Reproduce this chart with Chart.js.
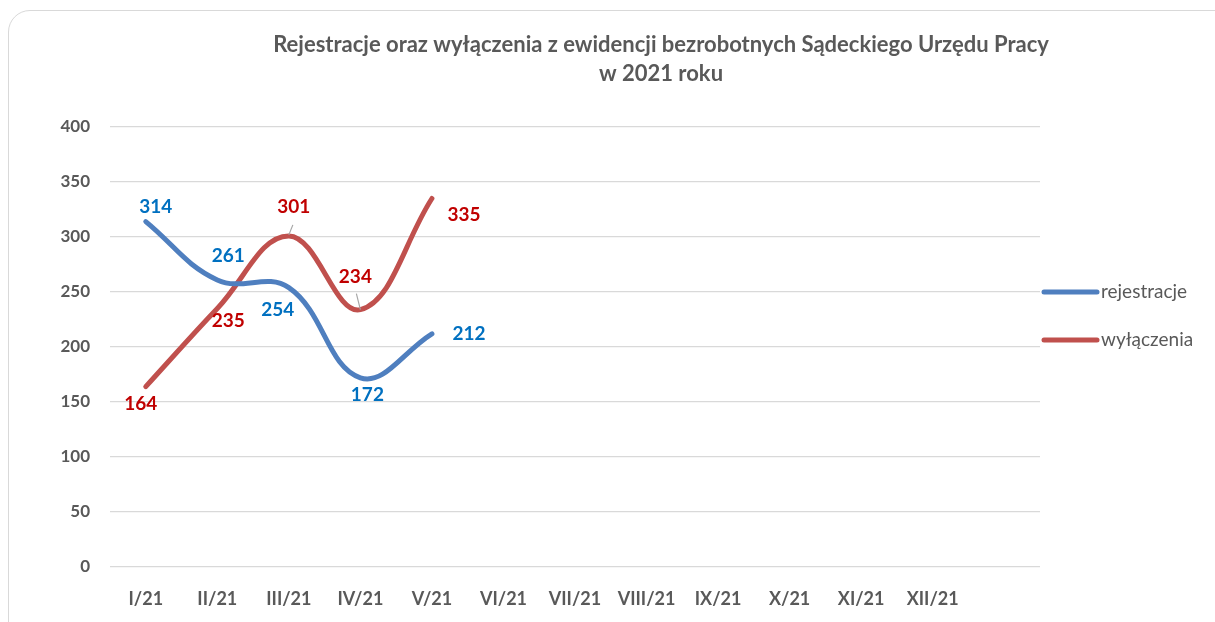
<!DOCTYPE html>
<html>
<head>
<meta charset="utf-8">
<script src="https://cdn.jsdelivr.net/npm/chart.js@4"></script>
<style>
  html, body { margin:0; padding:0; background:#fff; }
  #wrap { position:relative; width:1215px; height:622px; overflow:hidden; }
  #frame { position:absolute; left:8px; top:10px; width:1230px; height:640px;
           border:1px solid #d9d9d9; border-radius:22px; box-sizing:border-box; }
  #c { position:absolute; left:0; top:0; }
</style>
</head>
<body>
<div id="wrap">
  <div id="frame"></div>
  <canvas id="c" width="1215" height="622"></canvas>
</div>
<script>
// dane
const months = ['I/21','II/21','III/21','IV/21','V/21','VI/21','VII/21','VIII/21','IX/21','X/21','XI/21','XII/21',''];
const rejestracje = [314, 261, 254, 172, 212];
const wylaczenia = [164, 235, 301, 234, 335];
const titleLines = ['Rejestracje oraz wyłączenia z ewidencji bezrobotnych Sądeckiego Urzędu Pracy', 'w 2021 roku'];

const FONT = 'Lato, "Open Sans", sans-serif';
const GREY = '#595959';

// przesunięcia etykiet wartości (px) względem punktu
const labelOffsets = [
  [[10,-15],[11,-24],[-11,22],[7,17],[37,0]],
  [[-5,17],[11,12],[5,-29],[-5,-33],[32,16]]
];
const leaders = { '1-2': [[0,-1],[4,-11]], '1-3': [[0,0],[-4,-16]] };

const extras = {
  id: 'extras',
  afterDraw(chart){
    const ctx = chart.ctx;
    ctx.save();
    // tytuł
    ctx.fillStyle = GREY;
    ctx.font = 'bold 22px ' + FONT;
    ctx.textAlign = 'center';
    ctx.textBaseline = 'middle';
    ctx.fillText(titleLines[0], 661, 45);
    ctx.fillText(titleLines[1], 661, 74);

    // etykiety wartości
    chart.data.datasets.forEach((ds, di) => {
      const meta = chart.getDatasetMeta(di);
      meta.data.forEach((pt, i) => {
        const key = di + '-' + i;
        if(leaders[key]){
          const l = leaders[key];
          ctx.strokeStyle = '#a6a6a6';
          ctx.lineWidth = 1.2;
          ctx.beginPath();
          ctx.moveTo(pt.x + l[0][0], pt.y + l[0][1]);
          ctx.lineTo(pt.x + l[1][0], pt.y + l[1][1]);
          ctx.stroke();
        }
        const o = labelOffsets[di][i];
        ctx.fillStyle = ds.labelColor;
        ctx.font = 'bold 19px ' + FONT;
        ctx.fillText(String(ds.data[i]), pt.x + o[0], pt.y + o[1]);
      });
    });

    // legenda
    ctx.textAlign = 'left';
    ctx.font = '19px ' + FONT;
    chart.data.datasets.forEach((ds, di) => {
      const y = 292 + di * 48;
      ctx.strokeStyle = ds.borderColor;
      ctx.lineWidth = 5;
      ctx.lineCap = 'round';
      ctx.beginPath();
      ctx.moveTo(1044, y);
      ctx.lineTo(1097, y);
      ctx.stroke();
      ctx.fillStyle = GREY;
      ctx.fillText(ds.label, 1101, y);
    });
    ctx.restore();
  }
};

new Chart(document.getElementById('c'), {
  type: 'line',
  data: {
    labels: months,
    datasets: [
      { label: 'rejestracje', data: rejestracje, borderColor: '#4f7fbf', labelColor: '#0070c0',
        borderWidth: 5, pointRadius: 0, tension: 0.4, borderCapStyle: 'round' },
      { label: 'wyłączenia', data: wylaczenia, borderColor: '#c0504d', labelColor: '#c00000',
        borderWidth: 5, pointRadius: 0, tension: 0.4, borderCapStyle: 'round' }
    ]
  },
  options: {
    responsive: false,
    animation: false,
    layout: { padding: { left: 0, top: 127, right: 175, bottom: 10 } },
    plugins: { legend: { display: false }, title: { display: false }, tooltip: { enabled: false } },
    scales: {
      x: {
        offset: true,
        grid: { display: false },
        border: { display: false },
        afterFit(s){ s.height = 45; },
        ticks: { color: GREY, font: { family: FONT, size: 18, weight: 'bold' }, padding: 13, maxRotation: 0, autoSkip: false }
      },
      y: {
        min: 0, max: 400,
        afterFit(s){ s.width = 110; },
        grid: { color: '#d9d9d9', lineWidth: 1.3, drawTicks: false },
        border: { display: false },
        ticks: { stepSize: 50, color: GREY, font: { family: FONT, size: 17, weight: 'bold' }, padding: 20 }
      }
    }
  },
  plugins: [extras]
});
</script>
</body>
</html>
